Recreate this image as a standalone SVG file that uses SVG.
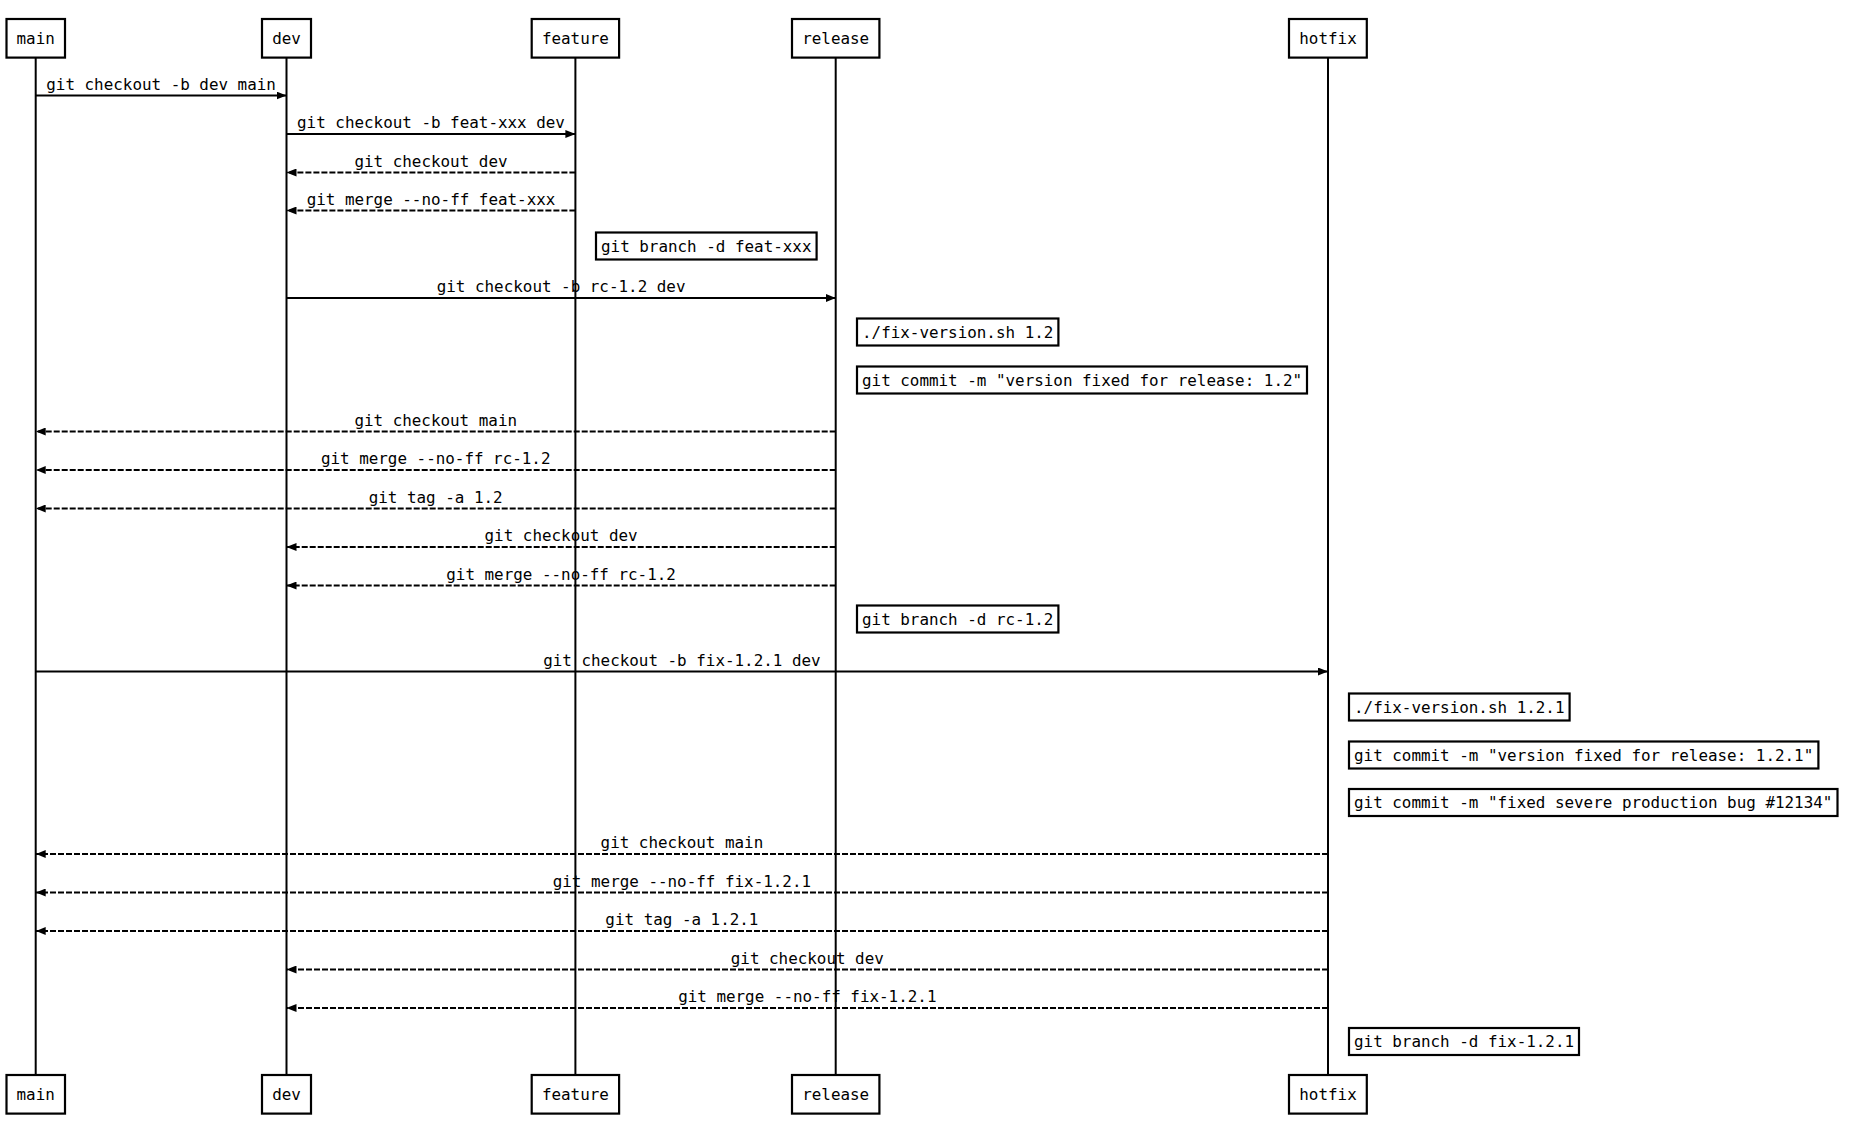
<svg xmlns="http://www.w3.org/2000/svg" width="1864" height="1142" viewBox="0 0 1864 1142">
<style>
text{font-family:"DejaVu Sans Mono","Liberation Mono",monospace;font-size:15.9px;fill:#000}
.c{text-anchor:middle}
.box{fill:#fff;stroke:#000;stroke-width:2.2}
.life{stroke:#000;stroke-width:2;fill:none}
.msg{stroke:#000;stroke-width:2;fill:none;marker-end:url(#ah)}
.dash{stroke-dasharray:6,2}
</style>
<defs>
<marker id="ah" markerUnits="userSpaceOnUse" markerWidth="10" markerHeight="8" refX="10" refY="4" orient="auto">
<path d="M0,0 L10,4 L0,8 z" fill="#000"/>
</marker>
</defs>
<rect width="1864" height="1142" fill="#fff"/>
<g id="lifelines">
<line class="life" x1="35.7" y1="57.6" x2="35.7" y2="1075"/>
<line class="life" x1="286.5" y1="57.6" x2="286.5" y2="1075"/>
<line class="life" x1="575.4" y1="57.6" x2="575.4" y2="1075"/>
<line class="life" x1="835.7" y1="57.6" x2="835.7" y2="1075"/>
<line class="life" x1="1328" y1="57.6" x2="1328" y2="1075"/>
</g>
<g id="actor-main"><rect class="box" x="6.5" y="19" width="58.5" height="38.6"/><text class="c" x="35.7" y="43.5">main</text>
<rect class="box" x="6.5" y="1075" width="58.5" height="38.6"/><text class="c" x="35.7" y="1099.5">main</text></g>
<g id="actor-dev"><rect class="box" x="262" y="19" width="49" height="38.6"/><text class="c" x="286.5" y="43.5">dev</text>
<rect class="box" x="262" y="1075" width="49" height="38.6"/><text class="c" x="286.5" y="1099.5">dev</text></g>
<g id="actor-feature"><rect class="box" x="531.7" y="19" width="87.4" height="38.6"/><text class="c" x="575.4" y="43.5">feature</text>
<rect class="box" x="531.7" y="1075" width="87.4" height="38.6"/><text class="c" x="575.4" y="1099.5">feature</text></g>
<g id="actor-release"><rect class="box" x="792" y="19" width="87.4" height="38.6"/><text class="c" x="835.7" y="43.5">release</text>
<rect class="box" x="792" y="1075" width="87.4" height="38.6"/><text class="c" x="835.7" y="1099.5">release</text></g>
<g id="actor-hotfix"><rect class="box" x="1289" y="19" width="77.8" height="38.6"/><text class="c" x="1328" y="43.5">hotfix</text>
<rect class="box" x="1289" y="1075" width="77.8" height="38.6"/><text class="c" x="1328" y="1099.5">hotfix</text></g>
<g id="notes">
<g id="note1"><rect class="box" x="596" y="232.5" width="220.6" height="27"/><text x="601" y="251.5">git branch -d feat-xxx</text></g>
<g id="note2"><rect class="box" x="857" y="318.5" width="201.4" height="27"/><text x="862" y="337.5">./fix-version.sh 1.2</text></g>
<g id="note3"><rect class="box" x="857" y="366.5" width="450" height="27"/><text x="862" y="385.5">git commit -m "version fixed for release: 1.2"</text></g>
<g id="note4"><rect class="box" x="857" y="605.5" width="201.4" height="27"/><text x="862" y="624.5">git branch -d rc-1.2</text></g>
<g id="note5"><rect class="box" x="1349" y="693.5" width="220.6" height="27"/><text x="1354" y="712.5">./fix-version.sh 1.2.1</text></g>
<g id="note6"><rect class="box" x="1349" y="741.5" width="469.4" height="27"/><text x="1354" y="760.5">git commit -m "version fixed for release: 1.2.1"</text></g>
<g id="note7"><rect class="box" x="1349" y="789" width="488.5" height="27"/><text x="1354" y="808">git commit -m "fixed severe production bug #12134"</text></g>
<g id="note8"><rect class="box" x="1349" y="1028" width="230" height="27"/><text x="1354" y="1047">git branch -d fix-1.2.1</text></g>
</g>
<g id="connectors">
<line class="msg" x1="35.7" y1="95.5" x2="286.5" y2="95.5"/>
<line class="msg" x1="286.5" y1="134" x2="575.4" y2="134"/>
<line class="msg dash" x1="575.4" y1="172.5" x2="286.5" y2="172.5"/>
<line class="msg dash" x1="575.4" y1="210.5" x2="286.5" y2="210.5"/>
<line class="msg" x1="286.5" y1="298" x2="835.7" y2="298"/>
<line class="msg dash" x1="835.7" y1="431.5" x2="35.7" y2="431.5"/>
<line class="msg dash" x1="835.7" y1="470" x2="35.7" y2="470"/>
<line class="msg dash" x1="835.7" y1="508.5" x2="35.7" y2="508.5"/>
<line class="msg dash" x1="835.7" y1="547" x2="286.5" y2="547"/>
<line class="msg dash" x1="835.7" y1="585.5" x2="286.5" y2="585.5"/>
<line class="msg" x1="35.7" y1="671.5" x2="1328" y2="671.5"/>
<line class="msg dash" x1="1328" y1="854" x2="35.7" y2="854"/>
<line class="msg dash" x1="1328" y1="892.5" x2="35.7" y2="892.5"/>
<line class="msg dash" x1="1328" y1="931" x2="35.7" y2="931"/>
<line class="msg dash" x1="1328" y1="969.5" x2="286.5" y2="969.5"/>
<line class="msg dash" x1="1328" y1="1008" x2="286.5" y2="1008"/>
</g>
<g id="labels">
<text class="c" x="161.1" y="89.5">git checkout -b dev main</text>
<text class="c" x="431" y="128">git checkout -b feat-xxx dev</text>
<text class="c" x="431" y="166.5">git checkout dev</text>
<text class="c" x="431" y="204.5">git merge --no-ff feat-xxx</text>
<text class="c" x="561.1" y="292">git checkout -b rc-1.2 dev</text>
<text class="c" x="435.7" y="425.5">git checkout main</text>
<text class="c" x="435.7" y="464">git merge --no-ff rc-1.2</text>
<text class="c" x="435.7" y="502.5">git tag -a 1.2</text>
<text class="c" x="561.1" y="541">git checkout dev</text>
<text class="c" x="561.1" y="579.5">git merge --no-ff rc-1.2</text>
<text class="c" x="681.9" y="665.5">git checkout -b fix-1.2.1 dev</text>
<text class="c" x="681.9" y="848">git checkout main</text>
<text class="c" x="681.9" y="886.5">git merge --no-ff fix-1.2.1</text>
<text class="c" x="681.9" y="925">git tag -a 1.2.1</text>
<text class="c" x="807.3" y="963.5">git checkout dev</text>
<text class="c" x="807.3" y="1002">git merge --no-ff fix-1.2.1</text>
</g>
</svg>
